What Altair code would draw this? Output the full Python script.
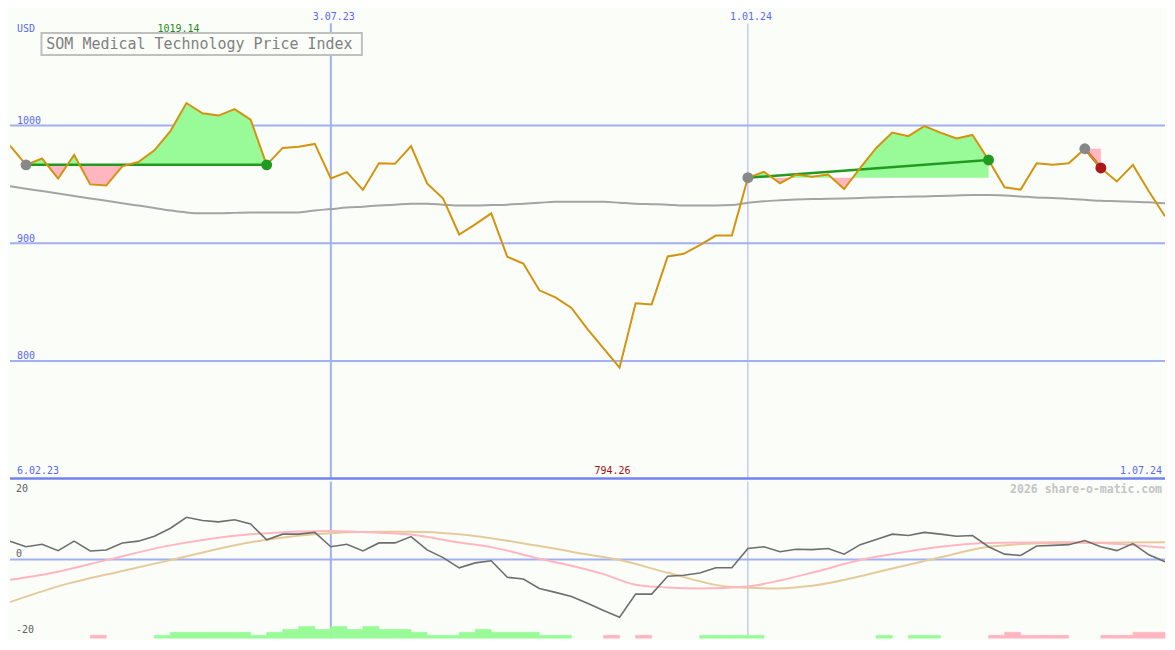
import altair as alt
import pandas as pd

# ------------------------------------------------------------------ data
# weekly index k = 0..72 (x axis)
price = [983, 966.6, 972, 955, 975, 950, 949, 965.3, 969, 979,
         995.3, 1019.14, 1010.4, 1008.5, 1014, 1005, 966.6, 981, 982, 984.4,
         955, 960.4, 945.3, 968, 967.5, 982.5, 950.8, 938, 907.4, 916,
         925.4, 888.5, 882.8, 860, 854, 845, 827, 810.7, 794.26, 849,
         848, 888.8, 891, 898.4, 906.5, 906.5, 955.7, 960.7, 951, 958.4,
         956.6, 958.4, 946, 964, 981, 994, 991, 999.5, 994, 989,
         992, 970.8, 947.5, 945.6, 968, 966.6, 968, 980.3, 964, 952.5,
         966.6, 944, 923]

ma_long = [948.4, 946.3, 944.3, 942.2, 940.2, 938.1, 936.1, 934, 932, 930,
           927.9, 926.2, 925.4, 925.4, 925.8, 926.2, 926.2, 926.2, 926.2, 927.9,
           929, 930.3, 931.1, 932, 932.8, 933.6, 933.6, 932.8, 932, 932,
           932.4, 932.8, 933.6, 934.4, 935.2, 935.2, 935.2, 935.2, 934.4, 933.6,
           933.2, 932.8, 932, 932, 932, 932.4, 934.4, 935.7, 936.5, 937.1,
           937.5, 937.7, 938, 938.5, 938.9, 939.3, 939.6, 939.8, 940.2, 940.6,
           941, 941, 940.6, 939.8, 938.9, 938.5, 937.7, 936.9, 936.1, 935.7,
           935.2, 934.8, 933.9]

osc = [5.2, 3.6, 4.3, 2.5, 5.2, 2.4, 2.7, 4.7, 5.2, 6.6,
       8.9, 12.0, 11.1, 10.7, 11.3, 10.1, 5.6, 7.2, 7.2, 7.7,
       3.6, 4.3, 2.4, 4.7, 4.7, 6.5, 2.7, 0.5, -2.4, -1.0,
       -0.4, -5.1, -5.6, -8.3, -9.4, -10.6, -12.5, -14.6, -16.5, -9.9,
       -9.9, -4.8, -4.5, -3.9, -2.4, -2.4, 3.1, 3.6, 2.2, 2.9,
       2.8, 3.1, 1.5, 4.2, 5.7, 7.2, 6.8, 7.7, 7.2, 6.6,
       6.8, 3.6, 1.5, 1.1, 3.8, 4.0, 4.2, 5.4, 3.6, 2.5,
       4.5, 1.3, -0.7]

pink_k = [0, 3, 6, 10, 15, 20, 22, 25, 28, 30, 33, 35, 37, 39, 41, 43, 46, 48, 50, 53, 55, 58, 61, 66, 68, 72]
pink_v = [-5.8, -3.5, -0.2, 4.0, 7.2, 8.1, 7.8, 7.1, 4.8, 3.5, 0.2, -1.8, -4.2, -7.2, -8.0, -8.3, -7.7, -6.0, -3.8, -0.2, 1.5, 3.6, 4.7, 4.9, 4.7, 3.3]

tan_k = [0, 3, 7, 10, 15, 19, 23, 25, 28, 33, 36, 38, 41, 45, 48, 50, 55, 58, 61, 65, 72]
tan_v = [-12.2, -7.7, -3.3, -0.2, 4.9, 7.2, 7.9, 7.9, 7.2, 3.8, 1.4, -0.2, -3.8, -7.9, -8.3, -7.5, -2.6, 0.6, 3.6, 4.7, 4.9]

# signed histogram levels per week (positive = green, negative = pink)
hist = [0, 0, 0, 0, 0, -1, 0, 0, 0, 1,
        2, 2, 2, 2, 2, 1, 2, 3, 4, 3,
        4, 3, 4, 3, 3, 2, 1, 1, 2, 3,
        2, 2, 2, 1, 1, 0, 0, -1, 0, -1,
        0, 0, 0, 1, 1, 1, 1, 0, 0, 0,
        0, 0, 0, 0, 1, 0, 1, 1, 0, 0,
        0, -1, -2, -1, -1, -1, 0, 0, -1, -1,
        -2, -2]

trade_entry = [1, 46, 67]
trade_exit = [16, 61, 68]
trade_result = ["win", "win", "loss"]

y_grid = [1000, 900, 800]
vline_k = [20, 46]
vline_labels = ["3.07.23", "1.01.24"]
first_label = "6.02.23"
last_label = "1.07.24"
unit_label = "USD"
title_text = "SOM Medical Technology Price Index"
credit_text = "2026 share-o-matic.com"
osc_ticks = [20, -20]

assert len(price) == 73 and len(ma_long) == 73 and len(osc) == 73 and len(hist) == 72

# ------------------------------------------------------------------ layout
W, H1, H2 = 1158, 471, 157
SX, SY1, SY2 = W / 1175, H1 / 487, H2 / 163
FONT = "DejaVu Sans Mono"
BG = "#fbfdf9"
BLUE_T = "#5a6af0"
GRID = "#a0b0f0"
GREEN_F = "#98fb98"
PINK_F = "#ffb6c1"
PRICE_C = "#d4930f"
WIN_C = "#229a22"
LOSS_C = "#a8191c"
ENTRY_C = "#888888"

LO2, HI2 = -22.47, 22.19
xs = alt.Scale(domain=[0, 72], nice=False, zero=False)
ys1 = alt.Scale(domain=[700, 1099.2], nice=False, zero=False)
ys2 = alt.Scale(domain=[LO2, HI2], nice=False, zero=False)

X = alt.X("k:Q", scale=xs, axis=None)

df = pd.DataFrame({"k": list(range(73)), "price": price, "ma": ma_long, "osc": osc})

# fill polygons between price and entry level for each trade
rows = []
for t, (a, b) in enumerate(zip(trade_entry, trade_exit)):
    lvl = price[a]
    for k in range(a, b + 1):
        if k > a:
            d0, d1 = price[k - 1] - lvl, price[k] - lvl
            if d0 * d1 < 0:
                kc = (k - 1) + d0 / (d0 - d1)
                rows.append(dict(trade=t, k=kc, lvl=lvl, up=lvl, dn=lvl))
        v = price[k]
        rows.append(dict(trade=t, k=k, lvl=lvl, up=max(v, lvl), dn=min(v, lvl)))
fill_df = pd.DataFrame(rows)

tl_rows = []
dot_rows = []
for t, (a, b, r) in enumerate(zip(trade_entry, trade_exit, trade_result)):
    tl_rows.append(dict(trade=t, k=a, v=price[a], res=r))
    tl_rows.append(dict(trade=t, k=b, v=price[b], res=r))
    dot_rows.append(dict(k=a, v=price[a], kind="entry"))
    dot_rows.append(dict(k=b, v=price[b], kind=r))
tl_df = pd.DataFrame(tl_rows)
dot_df = pd.DataFrame(dot_rows)

imax = max(range(73), key=lambda i: price[i])
imin = min(range(73), key=lambda i: price[i])
ext_max = pd.DataFrame({"k": [imax], "lab": [f"{price[imax]:.2f}"]})
ext_min = pd.DataFrame({"k": [imin], "lab": [f"{price[imin]:.2f}"]})

grid_df = pd.DataFrame({"g": y_grid, "lab": [str(v) for v in y_grid]})
vdf = pd.DataFrame({"k": vline_k, "lab": vline_labels})

# ------------------------------------------------------------------ main panel
grid_rules = alt.Chart(grid_df).mark_rule(color=GRID, strokeWidth=2).encode(
    y=alt.Y("g:Q", scale=ys1, axis=None))
grid_text = alt.Chart(grid_df).mark_text(
    align="left", baseline="alphabetic", dy=-1.5, font=FONT, fontSize=10, color=BLUE_T
).encode(x=alt.value(7 * SX), y=alt.Y("g:Q", scale=ys1, axis=None), text="lab:N")

base_rule = alt.Chart(pd.DataFrame({"g": [700]})).mark_rule(
    color="#7282ee", strokeWidth=2.5).encode(y=alt.Y("g:Q", scale=ys1, axis=None))

v1 = alt.Chart(vdf.iloc[[0]]).mark_rule(color=GRID, strokeWidth=2).encode(
    x=X, y=alt.value(15 * SY1), y2=alt.value(H1))
v2 = alt.Chart(vdf.iloc[[1]]).mark_rule(color="#a8b4e8", strokeWidth=1).encode(
    x=X, y=alt.value(15 * SY1), y2=alt.value(H1))
v_text = alt.Chart(vdf).mark_text(
    align="center", baseline="middle", dx=3, font=FONT, fontSize=10, color=BLUE_T
).encode(x=X, y=alt.value(9 * SY1), text="lab:N")

ma_line = alt.Chart(df).mark_line(color="#a4a4a4", strokeWidth=2, interpolate="monotone", clip=True).encode(
    x=X, y=alt.Y("ma:Q", scale=ys1, axis=None))

fill_up = alt.Chart(fill_df).mark_area(color=GREEN_F, opacity=1).encode(
    x=X, y=alt.Y("up:Q", scale=ys1, axis=None), y2="lvl:Q", detail="trade:N")
fill_dn = alt.Chart(fill_df).mark_area(color=PINK_F, opacity=1).encode(
    x=X, y=alt.Y("dn:Q", scale=ys1, axis=None), y2="lvl:Q", detail="trade:N")

win_lines = alt.Chart(tl_df).transform_filter("datum.res == 'win'").mark_line(
    strokeWidth=2.5, color=WIN_C).encode(
    x=X, y=alt.Y("v:Q", scale=ys1, axis=None), detail="trade:N")
loss_lines = alt.Chart(tl_df).transform_filter("datum.res == 'loss'").mark_line(
    strokeWidth=2.5, color=LOSS_C).encode(
    x=X, y=alt.Y("v:Q", scale=ys1, axis=None), detail="trade:N")

price_line = alt.Chart(df).mark_line(color=PRICE_C, strokeWidth=2, clip=True).encode(
    x=X, y=alt.Y("price:Q", scale=ys1, axis=None))


def dot_layer(kind, color):
    return alt.Chart(dot_df).transform_filter(f"datum.kind == '{kind}'").mark_point(
        filled=True, size=120, opacity=1, color=color).encode(
        x=X, y=alt.Y("v:Q", scale=ys1, axis=None))


dots_entry = dot_layer("entry", ENTRY_C)
dots_win = dot_layer("win", WIN_C)
dots_loss = dot_layer("loss", LOSS_C)

max_text = alt.Chart(ext_max).mark_text(
    align="center", baseline="middle", dx=-8, font=FONT, fontSize=10, color="#228a22"
).encode(x=X, y=alt.value(21 * SY1), text="lab:N")
min_text = alt.Chart(ext_min).mark_text(
    align="center", baseline="middle", dx=-7, font=FONT, fontSize=10, color="#a01010"
).encode(x=X, y=alt.value(479 * SY1), text="lab:N")

first_text = alt.Chart(pd.DataFrame({"lab": [first_label]})).mark_text(
    align="left", baseline="middle", font=FONT, fontSize=10, color=BLUE_T
).encode(x=alt.value(7 * SX), y=alt.value(479 * SY1), text="lab:N")
last_text = alt.Chart(pd.DataFrame({"lab": [last_label]})).mark_text(
    align="right", baseline="middle", font=FONT, fontSize=10, color=BLUE_T
).encode(x=alt.value(W - 3), y=alt.value(479 * SY1), text="lab:N")
unit_text = alt.Chart(pd.DataFrame({"lab": [unit_label]})).mark_text(
    align="left", baseline="middle", font=FONT, fontSize=10, color=BLUE_T
).encode(x=alt.value(7 * SX), y=alt.value(21 * SY1), text="lab:N")

title_df = pd.DataFrame({"t": [title_text]})
title_box = alt.Chart(title_df).mark_rect(fill=BG, stroke="#c0c0c0", strokeWidth=2).encode(
    x=alt.value(32 * SX), x2=alt.value(358 * SX), y=alt.value(25 * SY1), y2=alt.value(48 * SY1))
title_lbl = alt.Chart(title_df).mark_text(
    align="left", baseline="middle", font=FONT, fontSize=15, color="#808080"
).encode(x=alt.value(37 * SX), y=alt.value(37 * SY1), text="t:N")

main = alt.layer(
    grid_rules, v1, v2, ma_line, fill_up, fill_dn, win_lines, loss_lines, price_line,
    dots_entry, dots_win, dots_loss,
    base_rule, grid_text, v_text, max_text, min_text, first_text, last_text, unit_text,
    title_box, title_lbl,
).properties(width=W, height=H1)

# ------------------------------------------------------------------ lower panel
zero_rule = alt.Chart(pd.DataFrame({"g": [0]})).mark_rule(color=GRID, strokeWidth=2).encode(
    y=alt.Y("g:Q", scale=ys2, axis=None))
lv1 = alt.Chart(vdf.iloc[[0]]).mark_rule(color=GRID, strokeWidth=2).encode(
    x=X, y=alt.value(0), y2=alt.value(H2))
lv2 = alt.Chart(vdf.iloc[[1]]).mark_rule(color="#a8b4e8", strokeWidth=1).encode(
    x=X, y=alt.value(0), y2=alt.value(H2))

hist_df = pd.DataFrame({"k": list(range(72)), "h": hist})


def bar_layer(cond, color):
    return alt.Chart(hist_df).transform_filter(cond).transform_calculate(
        k2="datum.k + 1",
        ylo=f"{LO2}",
        yhi=f"{LO2} + abs(datum.h) * 0.84",
    ).mark_rect(color=color, stroke=color, strokeWidth=0.6).encode(
        x=X, x2="k2:Q",
        y=alt.Y("ylo:Q", scale=ys2, axis=None), y2="yhi:Q")


bars_up = bar_layer("datum.h > 0", GREEN_F)
bars_dn = bar_layer("datum.h < 0", PINK_F)

tan_line = alt.Chart(pd.DataFrame({"k": tan_k, "v": tan_v})).mark_line(
    color="#e5cb9c", strokeWidth=2, interpolate="monotone", clip=True).encode(
    x=X, y=alt.Y("v:Q", scale=ys2, axis=None))
pink_line = alt.Chart(pd.DataFrame({"k": pink_k, "v": pink_v})).mark_line(
    color=PINK_F, strokeWidth=2, interpolate="monotone", clip=True).encode(
    x=X, y=alt.Y("v:Q", scale=ys2, axis=None))
osc_line = alt.Chart(df).mark_line(color="#6e6e6e", strokeWidth=1.6, clip=True).encode(
    x=X, y=alt.Y("osc:Q", scale=ys2, axis=None))

tick_text = alt.Chart(pd.DataFrame({"v": osc_ticks, "lab": [str(v) for v in osc_ticks]})).mark_text(
    align="left", baseline="middle", font=FONT, fontSize=10, color="#606060"
).encode(x=alt.value(6 * SX), y=alt.Y("v:Q", scale=ys2, axis=None), text="lab:N")
zero_text = alt.Chart(pd.DataFrame({"v": [0], "lab": ["0"]})).mark_text(
    align="left", baseline="alphabetic", dy=-2, font=FONT, fontSize=10, color="#606060"
).encode(x=alt.value(6 * SX), y=alt.Y("v:Q", scale=ys2, axis=None), text="lab:N")
credit = alt.Chart(pd.DataFrame({"lab": [credit_text]})).mark_text(
    align="right", baseline="middle", font=FONT, fontSize=11.5, fontWeight="bold", color="#c4c4c4"
).encode(x=alt.value(W - 3), y=alt.value(9 * SY2), text="lab:N")

lower = alt.layer(
    zero_rule, lv1, lv2, bars_up, bars_dn, tan_line, pink_line, osc_line, tick_text, zero_text, credit
).properties(width=W, height=H2)

chart = alt.vconcat(main, lower, spacing=0).properties(
    background=BG, padding=0
).configure_view(stroke=None).configure_concat(spacing=0)

chart.save("out.html", embed_options={"renderer": "svg", "actions": False})
